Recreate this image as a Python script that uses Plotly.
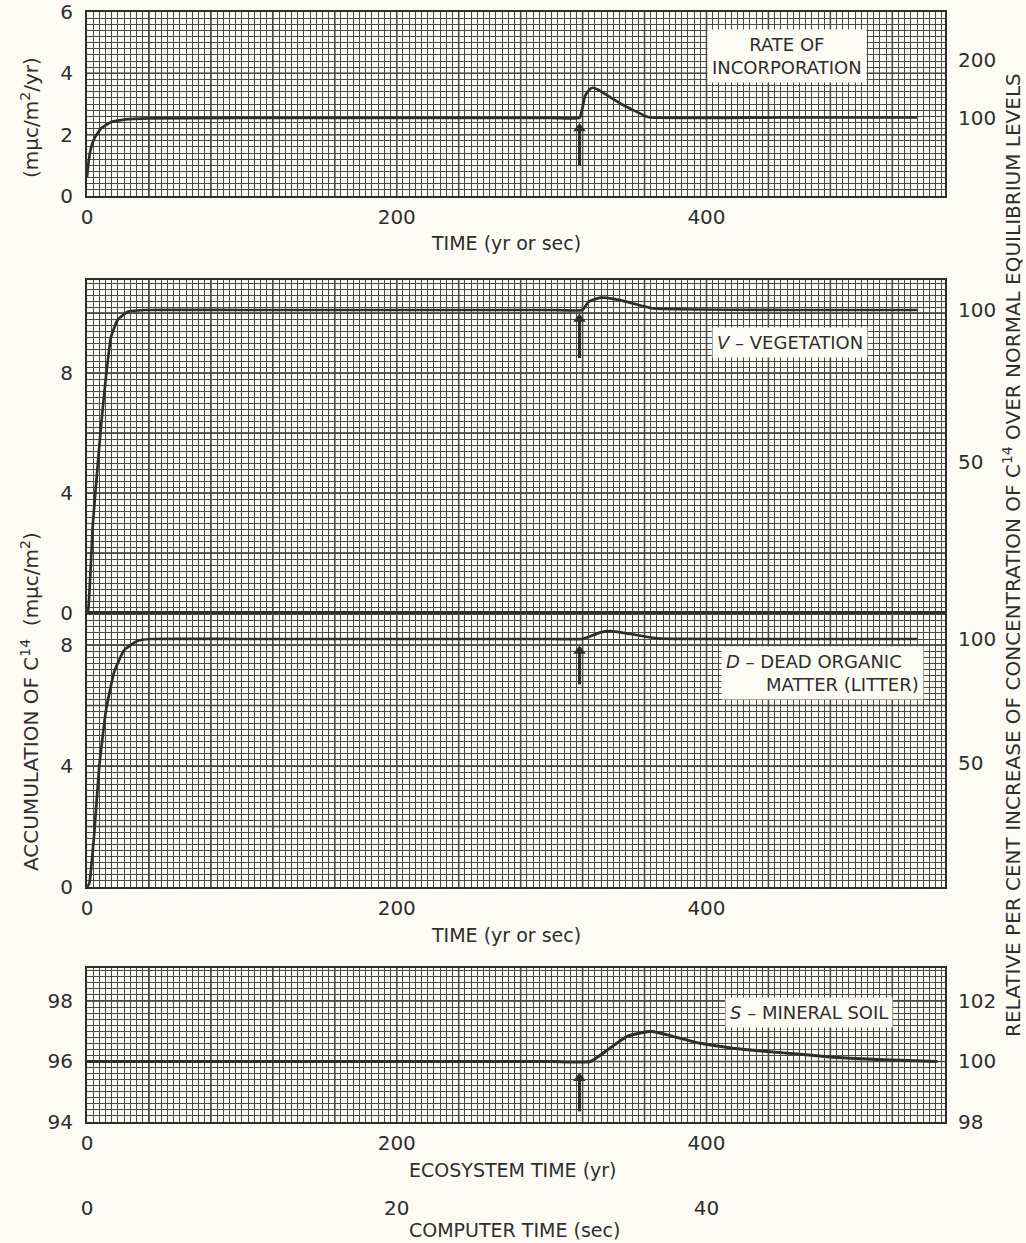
import plotly.graph_objects as go

# ---- data: C14 pulse through a forest ecosystem model ----
# Rate of incorporation (mμc/m²/yr) vs time (yr or sec)
rate_t = [0, 1, 2.5, 5, 9, 15, 25, 40, 100, 200, 300, 318, 320, 321.5, 324, 326.5,
          329.5, 345, 360, 364, 450, 536]
rate_v = [0.6, 1.1, 1.55, 1.9, 2.2, 2.4, 2.5, 2.53, 2.55, 2.55, 2.55, 2.55, 2.9, 3.25,
          3.45, 3.53, 3.48, 3.0, 2.62, 2.56, 2.56, 2.56]

# V - vegetation accumulation (mμc/m²)
veg_t = [0, 0.8, 2.1, 3.7, 5.4, 9, 12.3, 15.5, 19.8, 26.3, 37, 100, 200, 300, 319.8,
         324, 331.6, 340, 348.8, 358, 365.8, 450, 536]
veg_v = [0, 0.1, 1.2, 2.9, 4.0, 6.2, 7.9, 9.2, 9.77, 10.04, 10.1, 10.1, 10.1, 10.1,
         10.1, 10.38, 10.51, 10.47, 10.37, 10.24, 10.15, 10.1, 10.1]

# D - dead organic matter (litter) accumulation (mμc/m²)
lit_t = [0, 1.5, 4.7, 7.9, 12.3, 17.6, 24, 32.7, 41, 100, 200, 300, 319.8, 324, 331.6,
         338, 353, 368, 450, 536]
lit_v = [0, 0.12, 1.78, 3.98, 5.85, 7.12, 7.83, 8.14, 8.2, 8.2, 8.2, 8.2, 8.2, 8.27,
         8.42, 8.46, 8.35, 8.22, 8.2, 8.2]

# S - mineral soil accumulation (mμc/m²)
soil_t = [0, 100, 200, 300, 325, 336, 348.8, 364, 374.6, 396, 417, 439, 460.6, 482,
          503.7, 525, 549]
soil_v = [96.0, 96.0, 96.0, 96.0, 96.0, 96.38, 96.83, 97.0, 96.88, 96.6, 96.44, 96.33,
          96.24, 96.14, 96.08, 96.04, 96.0]

# time of the pulse and the arrow marking it in each panel (tail, head values)
pulse_year = 318
arrow_tails = [1.0, 8.5, 6.7, 94.35]
arrow_heads = [2.2, 9.8, 7.8, 95.45]

# tick labels
time_labels = [0, 200, 400]
computer_labels = [0, 20, 40]

# ---- styling ----
W, H = 1026, 1243
PAPER = "#fcfcf5"
INK = "#2e2e2e"
HEAVY = "#303030"
MINOR = "#4a4a4a"
FONT = "DejaVu Sans"


def fx(p):
    return p / W


def fy(p):
    return 1 - p / H


LEFT, RIGHT = 87, 945
X_MAX = 554

fig = go.Figure()

line_style = dict(color=INK, width=2.7, shape="spline", smoothing=0.4)
fig.add_trace(go.Scatter(x=rate_t, y=rate_v, mode="lines", line=line_style,
                         xaxis="x", yaxis="y", showlegend=False))
fig.add_trace(go.Scatter(x=veg_t, y=veg_v, mode="lines", line=line_style,
                         xaxis="x2", yaxis="y3", showlegend=False))
fig.add_trace(go.Scatter(x=lit_t, y=lit_v, mode="lines", line=line_style,
                         xaxis="x3", yaxis="y5", showlegend=False))
fig.add_trace(go.Scatter(x=soil_t, y=soil_v, mode="lines",
                         line=dict(color=INK, width=3, shape="spline", smoothing=0.4),
                         xaxis="x4", yaxis="y7", showlegend=False))

# empty traces so the percentage scales and the computer-time scale get drawn
for xa, ya in [("x", "y2"), ("x2", "y4"), ("x3", "y6"), ("x4", "y8"), ("x5", "y7")]:
    fig.add_trace(go.Scatter(x=[None], y=[None], mode="lines", xaxis=xa, yaxis=ya,
                             showlegend=False, hoverinfo="skip"))

# pulse arrows: a shaft and an upward head in each panel
panels = [("x", "y", 0, 6), ("x2", "y3", 0, 11.1), ("x3", "y5", 0, 9.06),
          ("x4", "y7", 94, 99.09)]
for (xa, ya, _, _), tail, head in zip(panels, arrow_tails, arrow_heads):
    fig.add_trace(go.Scatter(x=[pulse_year, pulse_year], y=[tail, head], mode="lines",
                             line=dict(color=INK, width=3), xaxis=xa, yaxis=ya,
                             showlegend=False, hoverinfo="skip"))
    fig.add_trace(go.Scatter(x=[pulse_year], y=[head], mode="markers",
                             marker=dict(symbol="triangle-up", size=11, color=INK),
                             xaxis=xa, yaxis=ya, showlegend=False, hoverinfo="skip"))


def time_axis(anchor, labels=True):
    return dict(
        domain=[fx(LEFT), fx(RIGHT)], anchor=anchor, range=[0, X_MAX],
        tickmode="array", tickvals=time_labels, showticklabels=labels,
        showgrid=False,
        minor=dict(tick0=0, dtick=4, showgrid=True, gridcolor=MINOR, gridwidth=1),
        showline=True, mirror=True, linecolor=INK, linewidth=2,
        ticks="outside", ticklen=2, tickcolor="rgba(0,0,0,0)",
        tickfont=dict(family=FONT, size=20, color=INK), zeroline=False,
        automargin=False,
    )


def value_axis(anchor, top, bottom, rng, labels):
    return dict(
        domain=[fy(bottom), fy(top)], anchor=anchor, range=rng,
        tickmode="array", tickvals=labels, showgrid=False,
        minor=dict(tick0=0, dtick=0.2, showgrid=True, gridcolor=MINOR, gridwidth=1),
        showline=True, mirror=True, linecolor=INK, linewidth=2,
        ticks="outside", ticklen=8, tickcolor="rgba(0,0,0,0)",
        tickfont=dict(family=FONT, size=20, color=INK), zeroline=False,
        automargin=False,
    )


def percent_axis(over, anchor, rng, vals):
    return dict(
        overlaying=over, anchor=anchor, side="right", range=rng,
        tickmode="array", tickvals=vals, showgrid=False, zeroline=False,
        showline=False, ticks="outside", ticklen=8, tickcolor="rgba(0,0,0,0)",
        tickfont=dict(family=FONT, size=20, color=INK), automargin=False,
    )


fig.update_layout(
    width=W, height=H,
    margin=dict(l=0, r=0, t=0, b=0, autoexpand=False),
    paper_bgcolor=PAPER, plot_bgcolor=PAPER,
    font=dict(family=FONT, color=INK),
    xaxis=time_axis("y"),
    xaxis2=time_axis("y3", labels=False),
    xaxis3=time_axis("y5"),
    xaxis4=time_axis("y7"),
    xaxis5=dict(
        overlaying="x4", anchor="free", position=fy(1188), side="bottom",
        range=[0, X_MAX / 10], tickmode="array", tickvals=computer_labels,
        showgrid=False, showline=False, zeroline=False,
        ticks="outside", ticklen=2, tickcolor="rgba(0,0,0,0)",
        tickfont=dict(family=FONT, size=20, color=INK), automargin=False,
    ),
    yaxis=value_axis("x", 12, 196, [0, 6], [0, 2, 4, 6]),
    yaxis2=percent_axis("y", "x", [-34.9, 282.5], [100, 200]),
    yaxis3=value_axis("x2", 280, 613, [0, 11.1], [0, 4, 8]),
    yaxis4=percent_axis("y3", "x2", [0, 109.9], [50, 100]),
    yaxis5=value_axis("x3", 613, 887, [0, 9.06], [0, 4, 8]),
    yaxis6=percent_axis("y5", "x3", [0, 110.5], [50, 100]),
    yaxis7=value_axis("x4", 968, 1122, [94, 99.09], [94, 96, 98]),
    yaxis8=percent_axis("y7", "x4", [98, 103.09], [98, 100, 102]),
)

# heavier rulings of the graph paper: every 10 small squares
for xr, yr, y0, y1 in panels:
    for gx in range(40, X_MAX, 40):
        fig.add_shape(type="line", xref=xr, yref=yr + " domain", x0=gx, x1=gx,
                      y0=0, y1=1, line=dict(color=HEAVY, width=1.5), layer="below")
    gy = y0 + 2
    while gy < y1:
        fig.add_shape(type="line", xref=xr + " domain", yref=yr, x0=0, x1=1,
                      y0=gy, y1=gy, line=dict(color=HEAVY, width=1.5), layer="below")
        gy += 2

# compartment labels on the graph paper
box_labels = [
    ("RATE OF<br>INCORPORATION", 787, 56, "center"),
    ("<i>V</i> – VEGETATION", 790, 342, "center"),
    ("<i>D</i> – DEAD ORGANIC<br>" + "\u00a0" * 7 + "MATTER (LITTER)", 822, 673, "left"),
    ("<i>S</i> – MINERAL SOIL", 809, 1012, "center"),
]
for text, cx, cy, align in box_labels:
    fig.add_annotation(x=fx(cx), y=fy(cy), xref="paper", yref="paper", text=text,
                       xanchor="center", yanchor="middle",
                       showarrow=False, align=align, bgcolor=PAPER, borderpad=4,
                       font=dict(family=FONT, size=18, color=INK))

# axis titles
titles = [
    ("TIME (yr or sec)", 506, 243, 0, 19),
    ("TIME (yr or sec)", 506, 935, 0, 19),
    ("ECOSYSTEM TIME (yr)", 513, 1170, 0, 19),
    ("COMPUTER TIME (sec)", 514, 1230, 0, 19),
    ("(mμc/m<sup>2</sup>/yr)", 30, 118, -90, 20),
    ("ACCUMULATION OF C<sup>14</sup>  (mμc/m<sup>2</sup>)", 30, 702, -90, 20),
    ("RELATIVE PER CENT INCREASE OF CONCENTRATION OF C<sup>14</sup> OVER NORMAL "
     "EQUILIBRIUM LEVELS", 1012, 555, -90, 20),
]
for text, cx, cy, angle, size in titles:
    fig.add_annotation(x=fx(cx), y=fy(cy), xref="paper", yref="paper", text=text,
                       xanchor="center", yanchor="middle",
                       showarrow=False, textangle=angle,
                       font=dict(family=FONT, size=size, color=INK))

fig.write_html("out.html")
